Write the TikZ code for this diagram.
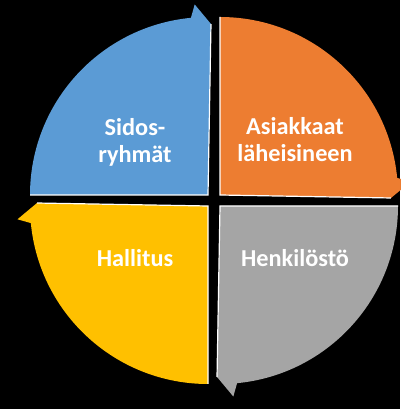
\documentclass[tikz,border=0pt]{standalone}
\usepackage{fontspec}
\setmainfont{Carlito}
\usepackage{tikz}
\usepackage{xcolor}
\definecolor{segblue}{HTML}{5B9BD5}
\definecolor{segorange}{HTML}{ED7D31}
\definecolor{seggray}{HTML}{A5A5A5}
\definecolor{segyellow}{HTML}{FFC000}

\begin{document}
\begin{tikzpicture}[x=1pt,y=1pt]
			\tikzstyle{every node}+=[inner sep=0pt, text=white, align=center, font=\fontsize{24.3}{27}\selectfont\bfseries]
			\tikzstyle{rim}=[white, line width=1.2pt]
			\fill [black] (0,0) rectangle (400,409);
			\useasboundingbox (0,0) rectangle (400,409);
			% blue quarter, arrow at the top
			\fill [segblue, shift={(208,214)}] (0,0) -- (180:178) arc [start angle=180, end angle=95.5, radius=178] -- (94:191) -- (89:171) -- cycle;
			\draw [rim, shift={(208,214)}] (180:178) -- (0,0) -- (89:171);
			% orange quarter, arrow at the right
			\fill [segorange, shift={(220,214)}] (0,0) -- (90:178) arc [start angle=90, end angle=5.5, radius=178] -- (4:191) -- (-1:171) -- cycle;
			\draw [rim, shift={(220,214)}] (90:178) -- (0,0) -- (-1:171);
			% gray quarter, arrow at the bottom
			\fill [seggray, shift={(220,203)}] (0,0) -- (0:178) arc [start angle=0, end angle=-84.5, radius=178] -- (-86:191) -- (-91:171) -- cycle;
			\draw [rim, shift={(220,203)}] (0:178) -- (0,0) -- (-91:171);
			% yellow quarter, arrow at the left
			\fill [segyellow, shift={(208,203)}] (0,0) -- (270:178) arc [start angle=270, end angle=185.5, radius=178] -- (184:191) -- (179:171) -- cycle;
			\draw [rim, shift={(208,203)}] (270:178) -- (0,0) -- (179:171);
			% labels
			\node (sidos) at (135,267) {Sidos-\\ryhmät};
			\node (asiakkaat) at (295,269) {Asiakkaat\\läheisineen};
			\node [anchor=base] (hallitus) at (135,142) {Hallitus};
			\node [anchor=base] (henkilosto) at (295,142) {Henkilöstö};
		\end{tikzpicture}
\end{document}
